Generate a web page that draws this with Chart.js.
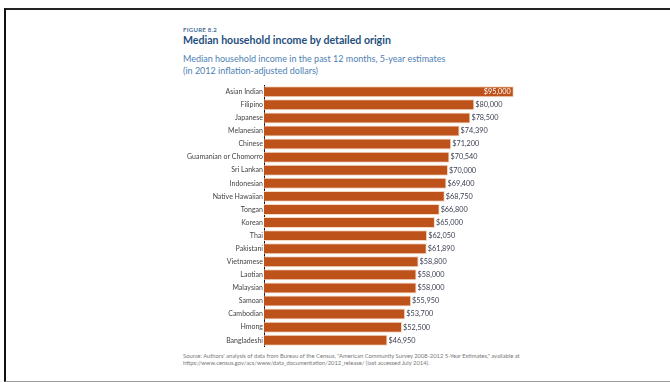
<!DOCTYPE html>
<html>
<head>
<meta charset="utf-8">
<script src="https://cdn.jsdelivr.net/npm/chart.js"></script>
<style>
  body { margin: 0; width: 670px; height: 382px; background: #fff; position: relative; overflow: hidden; font-family: Lato, "Open Sans", sans-serif; }
  #frame { position: absolute; left: 4px; top: 8px; width: 670px; height: 371px; border-left: 2px solid #111; border-top: 2px solid #222; border-bottom: 1px solid #999; }
  .t { position: absolute; left: 183px; white-space: nowrap; }
  #fig { top: 26px; font-size: 6px; font-weight: bold; color: #4a6f99; letter-spacing: 0.3px; }
  #title { top: 34px; font-size: 10.6px; font-weight: bold; color: #1f4f7d; }
  #sub1 { top: 53px; font-size: 9px; color: #4f7fb3; }
  #sub2 { top: 65px; font-size: 9px; color: #4f7fb3; }
  #src { top: 352px; font-size: 5.8px; color: #777; line-height: 7px; }
  #wrap { position: absolute; left: 170px; top: 80px; width: 470px; height: 272px; }
</style>
</head>
<body>
<div id="frame"></div>
<div class="t" id="fig">FIGURE 8.2</div>
<div class="t" id="title">Median household income by detailed origin</div>
<div class="t" id="sub1">Median household income in the past 12 months, 5-year estimates</div>
<div class="t" id="sub2">(in 2012 inflation-adjusted dollars)</div>
<div class="t" id="src">Source: Authors' analysis of data from Bureau of the Census, "American Community Survey 2008-2012 5-Year Estimates," available at<br>https://www.census.gov/acs/www/data_documentation/2012_release/ (last accessed July 2014).</div>
<div id="wrap"><canvas id="incomeChart"></canvas></div>
<script>
// categories and values
const origins = ["Asian Indian", "Filipino", "Japanese", "Melanesian", "Chinese", "Guamanian or Chomorro",
  "Sri Lankan", "Indonesian", "Native Hawaiian", "Tongan", "Korean", "Thai", "Pakistani", "Vietnamese",
  "Laotian", "Malaysian", "Samoan", "Cambodian", "Hmong", "Bangladeshi"];
const incomes = [95000, 80000, 78500, 74390, 71200, 70540, 70000, 69400, 68750, 66800, 65000, 62050,
  61890, 58800, 58000, 58000, 55950, 53700, 52500, 46950];
const incomeLabels = ["$95,000", "$80,000", "$78,500", "$74,390", "$71,200", "$70,540", "$70,000", "$69,400",
  "$68,750", "$66,800", "$65,000", "$62,050", "$61,890", "$58,800", "$58,000", "$58,000", "$55,950",
  "$53,700", "$52,500", "$46,950"];

// draws the dollar amounts at bar ends (first one sits inside the bar in white)
const valueLabels = {
  id: "valueLabels",
  afterDatasetsDraw(chart) {
    const ctx = chart.ctx;
    const meta = chart.getDatasetMeta(0);
    ctx.save();
    ctx.font = "7.3px Lato, sans-serif";
    ctx.textBaseline = "middle";
    meta.data.forEach((bar, i) => {
      if (i === 0) {
        ctx.fillStyle = "#fff";
        ctx.textAlign = "right";
        ctx.fillText(incomeLabels[i], bar.x - 3, bar.y);
      } else {
        ctx.fillStyle = "#3b3f52";
        ctx.textAlign = "left";
        ctx.fillText(incomeLabels[i], bar.x + 1, bar.y);
      }
    });
    ctx.restore();
  }
};

new Chart(document.getElementById("incomeChart"), {
  type: "bar",
  data: {
    labels: origins,
    datasets: [{
      data: incomes,
      backgroundColor: "#bd521a",
      borderColor: "#f7d9c2",
      borderWidth: 1,
      borderSkipped: "left",
      categoryPercentage: 1,
      barPercentage: 0.84
    }]
  },
  options: {
    indexAxis: "y",
    responsive: true,
    maintainAspectRatio: false,
    animation: false,
    layout: { padding: { top: 1, bottom: 3, right: 0 } },
    plugins: { legend: { display: false }, tooltip: { enabled: false } },
    scales: {
      x: {
        min: 0,
        max: 143000,
        display: false
      },
      y: {
        afterFit(scale) { scale.width = 94; },
        grid: { display: false, drawTicks: false },
        border: { display: true, color: "#111", width: 1 },
        ticks: { color: "#444", font: { size: 7, family: "Lato" }, padding: 1, autoSkip: false }
      }
    }
  },
  plugins: [valueLabels]
});
</script>
</body>
</html>
